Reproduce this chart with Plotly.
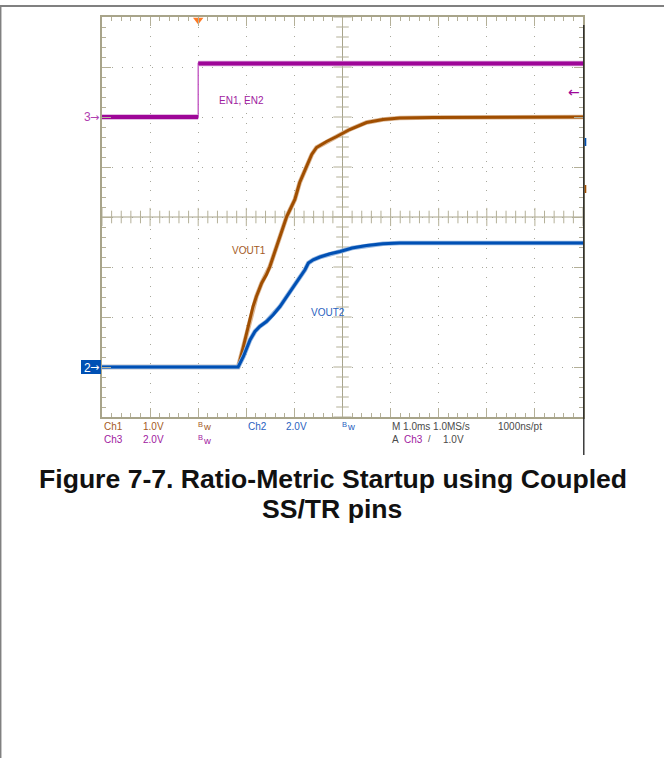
import plotly.graph_objects as go

# ---- acquisition settings -------------------------------------------------
T_LEFT, T_RIGHT = -2.0, 8.0      # ms, trigger at t = 0 (two divisions from left)
V_HALF = 4                       # vertical divisions above / below centre

CH1_SCALE, CH1_REF = 1.0, -3.0   # V/div, reference level in divisions
CH2_SCALE, CH2_REF = 2.0, -3.0
CH3_SCALE, CH3_REF = 2.0, 2.0
TRIG_LEVEL = 1.0                 # V on Ch3

# ---- waveforms (time in ms, amplitude in V) -------------------------------
en_t = [-2.0, 0.0, 0.0, 8.0]
en_v = [0.0, 0.0, 2.14, 2.14]

vout1_t = [-2.0, 0.83, 0.94, 1.01, 1.08, 1.14, 1.21, 1.32, 1.42, 1.49, 1.56,
           1.63, 1.70, 1.77, 1.84, 1.94, 2.01, 2.11, 2.25, 2.36, 2.46, 2.67,
           2.88, 3.15, 3.50, 3.84, 4.19, 4.88, 8.0]
vout1_v = [0.0, 0.0, 0.41, 0.69, 0.95, 1.21, 1.41, 1.68, 1.85, 2.01, 2.21,
           2.41, 2.61, 2.81, 3.01, 3.21, 3.35, 3.69, 4.01, 4.25, 4.39, 4.51,
           4.61, 4.75, 4.89, 4.95, 4.98, 4.99, 5.00]

vout2_t = [-2.0, 0.83, 0.94, 1.01, 1.08, 1.18, 1.28, 1.42, 1.56, 1.70, 1.84,
           1.98, 2.11, 2.22, 2.29, 2.39, 2.53, 2.74, 2.95, 3.20, 3.50, 3.84,
           4.19, 8.0]
vout2_v = [0.0, 0.0, 0.42, 0.76, 1.09, 1.42, 1.62, 1.82, 2.09, 2.42, 2.82,
           3.22, 3.56, 3.89, 4.16, 4.29, 4.40, 4.53, 4.62, 4.76, 4.86, 4.93,
           4.96, 4.96]

# ---- page geometry (pixels) -----------------------------------------------
W, H = 664, 758
L, R, T, B = 102, 583, 17, 417
PW, PH = R - L, B - T

PURPLE, BROWN, BLUE = "#9e0698", "#a04e00", "#0050b4"
PURPLE_TXT, BROWN_TXT, BLUE_TXT, GRAY_TXT = "#a020a0", "#a45a1e", "#2a62c0", "#4a4a4a"
FRAME, TICK, DOT = "#a8a48a", "#b4b098", "#a8a89c"
SCOPE_FONT = "Liberation Sans, Arial"
ARROW_FONT = "DejaVu Sans"


def px(x):
    return (x - L) / PW


def py(y):
    return (B - y) / PH


def ch_range(ref, scale):
    return [(-V_HALF - ref) * scale, (V_HALF - ref) * scale]


fig = go.Figure()

# centre crosshair tick marks
minor_t = [T_LEFT + 0.2 * k for k in range(int((T_RIGHT - T_LEFT) / 0.2) + 1)]
minor_y = [-V_HALF + 0.2 * k for k in range(int(2 * V_HALF / 0.2) + 1)]
tc = (T_LEFT + T_RIGHT) / 2
for major in (False, True):
    xs = [v for v in minor_t if (abs(v - round(v)) < 1e-6) == major]
    fig.add_trace(go.Scatter(x=xs, y=[0] * len(xs), mode="markers", hoverinfo="skip",
                             marker=dict(symbol="line-ns", size=13 if major else 9,
                                         line=dict(width=1, color=TICK))))
    ys = [v for v in minor_y if (abs(v - round(v)) < 1e-6) == major]
    fig.add_trace(go.Scatter(x=[tc] * len(ys), y=ys, mode="markers", hoverinfo="skip",
                             marker=dict(symbol="line-ew", size=13 if major else 9,
                                         line=dict(width=1, color=TICK))))

# trigger position marker
fig.add_trace(go.Scatter(x=[0], y=[V_HALF - 0.06], mode="markers", cliponaxis=False,
                         hoverinfo="skip",
                         marker=dict(symbol="triangle-down", size=9, color="#ff7a24")))

# Ch3 (EN1, EN2): thin edge, thick levels
fig.add_trace(go.Scatter(x=en_t, y=en_v, yaxis="y4", mode="lines", hoverinfo="skip",
                         line=dict(color="#c050c0", width=1.3)))
lvl_t, lvl_v = [], []
for i in range(len(en_t) - 1):
    if en_v[i] == en_v[i + 1]:
        lvl_t += [en_t[i], en_t[i + 1], None]
        lvl_v += [en_v[i], en_v[i + 1], None]
fig.add_trace(go.Scatter(x=lvl_t, y=lvl_v, yaxis="y4", mode="lines", hoverinfo="skip",
                         line=dict(color="#dba6da", width=5.5)))
fig.add_trace(go.Scatter(x=lvl_t, y=lvl_v, yaxis="y4", mode="lines", hoverinfo="skip",
                         line=dict(color=PURPLE, width=3.8)))

# Ch1 (VOUT1) and Ch2 (VOUT2)
for t, v, ax, col, halo in ((vout1_t, vout1_v, "y2", BROWN, "#dcb896"),
                            (vout2_t, vout2_v, "y3", BLUE, "#98b8e0")):
    fig.add_trace(go.Scatter(x=t, y=v, yaxis=ax, mode="lines", hoverinfo="skip",
                             line=dict(color=halo, width=4.6)))
    fig.add_trace(go.Scatter(x=t, y=v, yaxis=ax, mode="lines", hoverinfo="skip",
                             line=dict(color=col, width=3)))

shapes = [
    # crosshair
    dict(type="line", xref="x", yref="paper", x0=tc, x1=tc, y0=0, y1=1,
         line=dict(color=FRAME, width=1), layer="below"),
    dict(type="line", xref="paper", yref="y", x0=0, x1=1, y0=0, y1=0,
         line=dict(color=FRAME, width=1), layer="below"),
    # page border
    dict(type="line", xref="paper", yref="paper", x0=px(0), x1=px(W), y0=py(6), y1=py(6),
         line=dict(color="#808080", width=2)),
    dict(type="line", xref="paper", yref="paper", x0=px(0.7), x1=px(0.7), y0=py(6), y1=py(H),
         line=dict(color="#808080", width=1.5)),
    # screen edge
    dict(type="line", xref="paper", yref="paper", x0=px(583.8), x1=px(583.8), y0=py(25), y1=py(455),
         line=dict(color="#1e1e1e", width=1.3)),
    # off-screen channel markers
    dict(type="line", xref="paper", yref="paper", x0=px(585.5), x1=px(585.5), y0=py(138), y1=py(146),
         line=dict(color=BLUE, width=1.6)),
    dict(type="line", xref="paper", yref="paper", x0=px(585.5), x1=px(585.5), y0=py(185), y1=py(193),
         line=dict(color=BROWN, width=1.6)),
    # Ch2 reference tag
    dict(type="rect", xref="paper", yref="paper", x0=px(81), x1=px(101), y0=py(374), y1=py(360),
         fillcolor=BLUE, line=dict(width=0)),
]

ann = []


def label(text, x, y, color, size=10, anchor="left", family=SCOPE_FONT):
    ann.append(dict(text=text, x=px(x), y=py(y), xref="paper", yref="paper",
                    xanchor=anchor, yanchor="middle", showarrow=False,
                    font=dict(family=family, size=size, color=color)))


def bw(x, y, color):
    label("B", x, y - 2, color, 7.5)
    label("w", x + 4.5, y + 0.5, color, 9.5)


label("EN1, EN2", 216.5, 101, PURPLE_TXT, 10)
label("VOUT1", 229.5, 250, BROWN_TXT, 10)
label("VOUT2", 308.5, 312, BLUE_TXT, 10)
label("3", 92.5, 117.5, "#b040b0", 12, anchor="right")
label("\u2192", 101, 117, "#b040b0", 11, anchor="right", family=ARROW_FONT)
label("2", 92.5, 367.5, "#ffffff", 12, anchor="right")
label("\u2192", 101, 367, "#ffffff", 11, anchor="right", family=ARROW_FONT)
# Ch3 trigger level marker
trig_y = B - (CH3_REF + TRIG_LEVEL / CH3_SCALE + V_HALF) * PH / (2 * V_HALF)
label("\u2190", 582, trig_y, PURPLE, 14, anchor="right", family=ARROW_FONT)

r1, r2 = 426.5, 439.5
label("Ch1", 101.5, r1, BROWN_TXT)
label("1.0V", 141, r1, BROWN_TXT)
bw(196, r1, BROWN_TXT)
label("Ch2", 245.5, r1, BLUE_TXT)
label("2.0V", 284, r1, BLUE_TXT)
bw(340, r1, BLUE_TXT)
label("M 1.0ms 1.0MS/s", 390, r1, GRAY_TXT)
label("1000ns/pt", 496, r1, GRAY_TXT)
label("Ch3", 101.5, r2, PURPLE_TXT)
label("2.0V", 141, r2, PURPLE_TXT)
bw(196, r2, PURPLE_TXT)
label("A", 390, r2, GRAY_TXT)
label("Ch3", 401.5, r2, PURPLE_TXT)
label("/", 426, r2, GRAY_TXT, 9)
label("1.0V", 440.5, r2, GRAY_TXT)

cap_font = "Liberation Sans, Arial, sans-serif"
ann.append(dict(text="<b>Figure 7-7. Ratio-Metric Startup using Coupled</b>", x=px(W / 2 + 0.5), y=py(479),
                xref="paper", yref="paper", xanchor="center", yanchor="middle", showarrow=False,
                font=dict(family=cap_font, size=26.6, color="#111111")))
ann.append(dict(text="<b>SS/TR pins</b>", x=px(W / 2), y=py(509),
                xref="paper", yref="paper", xanchor="center", yanchor="middle", showarrow=False,
                font=dict(family=cap_font, size=26.6, color="#111111")))

edge_axis = dict(showline=True, linecolor=FRAME, linewidth=1.5, mirror="ticks",
                 ticks="inside", ticklen=9, tickcolor=TICK, tickwidth=1,
                 showticklabels=False, zeroline=False, showgrid=True, gridcolor=DOT, gridwidth=1,
                 fixedrange=True)
hidden = dict(overlaying="y", visible=False, fixedrange=True)

fig.update_layout(
    width=W, height=H, margin=dict(l=L, r=W - R, t=T, b=H - B),
    paper_bgcolor="white", plot_bgcolor="white", showlegend=False,
    xaxis=dict(range=[T_LEFT, T_RIGHT], tick0=T_LEFT, dtick=1.0, griddash="1px,8.62px",
               minor=dict(dtick=0.2, tick0=T_LEFT, ticks="inside", ticklen=4, tickcolor=TICK,
                          showgrid=False),
               **edge_axis),
    yaxis=dict(range=[-V_HALF, V_HALF], tick0=-V_HALF, dtick=1, griddash="1px,9px",
               minor=dict(dtick=0.2, tick0=-V_HALF, ticks="inside", ticklen=4, tickcolor=TICK,
                          showgrid=False),
               **edge_axis),
    yaxis2=dict(range=ch_range(CH1_REF, CH1_SCALE), **hidden),
    yaxis3=dict(range=ch_range(CH2_REF, CH2_SCALE), **hidden),
    yaxis4=dict(range=ch_range(CH3_REF, CH3_SCALE), **hidden),
    shapes=shapes, annotations=ann,
)

fig.write_html("out.html")
